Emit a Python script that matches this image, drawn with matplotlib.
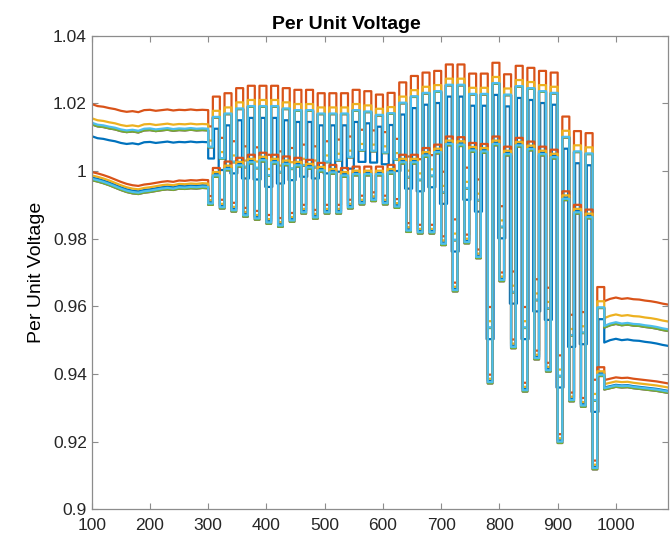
import numpy as np
import matplotlib.pyplot as plt

plt.rcParams['font.family'] = ['Liberation Sans', 'DejaVu Sans']

# MATLAB default colour order (blue, orange, yellow, purple, green, light blue)
colors = ['#0072BD', '#D95319', '#EDB120', '#7E2F8E', '#77AC30', '#4DBEEE']

# before switching starts (orange trace of each group)
pre_x = [100, 110, 120, 130, 140, 150, 160, 170, 180, 190, 200,
         210, 220, 230, 240, 250, 260, 270, 280, 290, 300]
pre_a = [1.0198, 1.0192, 1.0190, 1.0186, 1.0183, 1.0178, 1.0175, 1.0177, 1.0174, 1.0180, 1.0181,
         1.0178, 1.0180, 1.0182, 1.0179, 1.0181, 1.0180, 1.0182, 1.0180, 1.0181, 1.0180]
pre_b = [0.9997, 0.9993, 0.9988, 0.9982, 0.9975, 0.9968, 0.9962, 0.9958, 0.9956, 0.9960, 0.9962,
         0.9965, 0.9968, 0.9970, 0.9968, 0.9972, 0.9971, 0.9973, 0.9972, 0.9974, 0.9973]

# switching period: 34 cycles from t=300, each low then high
cycle_start = 300
period = 20
low_len = 8
a_hi = [1.0220, 1.0230, 1.0245, 1.0252, 1.0252, 1.0252, 1.0245, 1.0240, 1.0240, 1.0230,
        1.0230, 1.0230, 1.0240, 1.0236, 1.0226, 1.0231, 1.0262, 1.0281, 1.0291, 1.0296,
        1.0315, 1.0315, 1.0288, 1.0288, 1.0320, 1.0286, 1.0311, 1.0305, 1.0296, 1.0291,
        1.0161, 1.0118, 1.0112, 0.9657]
a_lo = [1.0132, 1.0098, 1.0088, 1.0073, 1.0070, 1.0048, 1.0058, 1.0068, 1.0078, 1.0073,
        1.0088, 1.0093, 1.0102, 1.0122, 1.0120, 1.0115, 1.0095, 1.0043, 1.0035, 1.0047,
        0.9998, 0.9857, 1.0010, 0.9975, 0.9598, 0.9896, 0.9703, 0.9598, 0.9680, 0.9655,
        0.9455, 0.9575, 0.9583, 0.9383]
b_hi = [1.0009, 1.0028, 1.0039, 1.0048, 1.0054, 1.0048, 1.0043, 1.0039, 1.0033, 1.0024,
        1.0018, 1.0009, 1.0013, 1.0013, 1.0013, 1.0018, 1.0048, 1.0048, 1.0068, 1.0078,
        1.0102, 1.0100, 1.0083, 1.0080, 1.0102, 1.0072, 1.0098, 1.0087, 1.0072, 1.0063,
        0.9940, 0.9900, 0.9886, 0.9420]
b_lo = [0.9926, 0.9915, 0.9906, 0.9891, 0.9882, 0.9870, 0.9861, 0.9876, 0.9900, 0.9885,
        0.9900, 0.9900, 0.9915, 0.9927, 0.9937, 0.9927, 0.9917, 0.9846, 0.9841, 0.9841,
        0.9807, 0.9670, 0.9812, 0.9768, 0.9398, 0.9700, 0.9502, 0.9374, 0.9469, 0.9433,
        0.9222, 0.9345, 0.9329, 0.9144]

# after switching ends
post_x = [980, 990, 1000, 1010, 1020, 1030, 1040, 1050, 1060, 1070, 1080, 1090]
post_a = [0.9615, 0.9622, 0.9626, 0.9622, 0.9624, 0.9621, 0.9620, 0.9617, 0.9615, 0.9612, 0.9608, 0.9605]
post_b = [0.9382, 0.9386, 0.9390, 0.9388, 0.9389, 0.9386, 0.9384, 0.9382, 0.9380, 0.9378, 0.9375, 0.9372]

# offset of each colour from the orange trace (before, switching, after)
a_off = [(-0.0095, -0.0095, -0.0122), (0, 0, 0), (-0.0042, -0.0042, -0.0050),
         (-0.0060, -0.0062, -0.0078), (-0.0060, -0.0062, -0.0078), (-0.0055, -0.0060, -0.0073)]
b_off = [(-0.0016, -0.0018, -0.0022), (0, 0, 0), (-0.0010, -0.0012, -0.0012),
         (-0.0024, -0.0026, -0.0028), (-0.0024, -0.0026, -0.0028), (-0.0020, -0.0022, -0.0024)]
# the dark blue trace of the upper group switches up a little later and down a little earlier
a_lag = [2.0, 0, 0, 0, 0, 0]


def build(pre, hi, lo, post, off, lag=0):
    xs = list(pre_x)
    ys = [v + off[0] for v in pre]
    for j in range(len(hi)):
        t0 = cycle_start + period * j
        t1 = t0 + low_len + lag
        t2 = t0 + period - lag
        if j == len(hi) - 1:
            t2 = t0 + period
        xs += [t0, t1, t1, t2]
        ys += [lo[j] + off[1], lo[j] + off[1], hi[j] + off[1], hi[j] + off[1]]
        if t2 < t0 + period:
            xs += [t2, t0 + period]
            ys += [lo[j + 1] + off[1], lo[j + 1] + off[1]]
    xs += post_x
    ys += [v + off[2] for v in post]
    return xs, ys


fig = plt.figure(figsize=(6.7, 5.37), dpi=100)
ax = fig.add_axes([0.1369, 0.0516, 0.8606, 0.8819])

for c, off, lag in zip(colors, a_off, a_lag):
    x, y = build(pre_a, a_hi, a_lo, post_a, off, lag)
    ax.plot(x, y, color=c, lw=1.6)
for c, off in zip(colors, b_off):
    x, y = build(pre_b, b_hi, b_lo, post_b, off)
    ax.plot(x, y, color=c, lw=1.6)

ax.set_xlim(100, 1090)
ax.set_ylim(0.9, 1.04)
ax.set_xticks(np.arange(100, 1001, 100))
yt = [0.9, 0.92, 0.94, 0.96, 0.98, 1.0, 1.02, 1.04]
ax.set_yticks(yt)
ax.set_yticklabels(['0.9', '0.92', '0.94', '0.96', '0.98', '1', '1.02', '1.04'])
ax.tick_params(direction='in', length=4.5, width=0.8, color='#8c8c8c',
               labelcolor='#262626', labelsize=12.5, top=True, right=True)
ax.tick_params(axis='x', pad=6)
for s in ax.spines.values():
    s.set_color('#8c8c8c')
    s.set_linewidth(0.9)

ax.set_title('Per Unit Voltage', fontsize=14, fontweight='bold', color='black', pad=5, x=0.441)
ax.set_ylabel('Per Unit Voltage', fontsize=14, color='black', labelpad=6)

fig.savefig('out.png', dpi=100)
